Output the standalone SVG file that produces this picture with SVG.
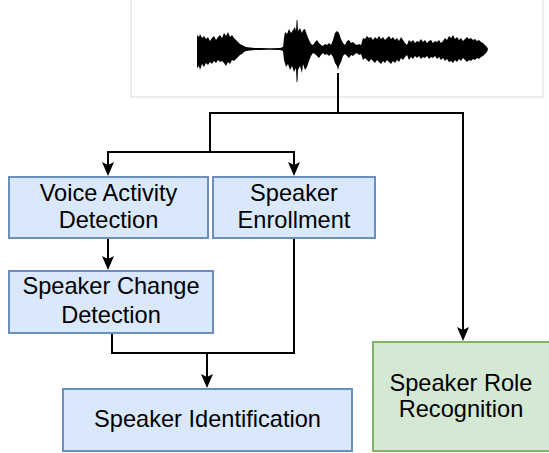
<svg xmlns="http://www.w3.org/2000/svg" width="549" height="453" viewBox="0 0 549 453">
  <style>
    .lbl { font-family: "Liberation Sans", Arial, Helvetica, sans-serif; font-size: 23.6px; fill: #000; text-anchor: middle; }
    .blue { fill: #dae8fc; stroke: #6c8ebf; stroke-width: 2; }
    .green { fill: #d5e8d4; stroke: #82b366; stroke-width: 2; }
    .edge { fill: none; stroke: #000; stroke-width: 2; }
  </style>
  <defs>
    <marker id="arrow" markerUnits="userSpaceOnUse" markerWidth="15" markerHeight="13" refX="10" refY="6.5" orient="auto">
      <path d="M0,0.5 L14,6.5 L0,12.5 L3,6.5 z" fill="#000"/>
    </marker>
  </defs>
  <rect width="549" height="453" fill="#fff"/>

  <!-- audio waveform panel -->
  <g id="waveform">
    <rect x="131" y="-2" width="412" height="99" fill="#fff" stroke="#dcdcdc" stroke-width="1"/>
    <path fill="#000" d="M197,35 L199,37 L200,34 L202,38 L204,36 L206,39 L208,37 L210,41 L212,38 L214,36 L216,40 L218,37 L220,35 L222,38 L224,33 L226,36 L228,32 L230,37 L232,35 L234,38 L236,40 L238,42 L240,44 L242,45 L244,46 L246,47 L250,47.5 L255,48 L260,48 L270,48.2 L280,48 L283,47 L284,38 L285,32 L287,34 L289,29 L291,33 L293,30 L295,27 L296,31 L296.6,20 L297.4,20 L298,31 L300,28 L302,33 L303,30 L305,29 L307,35 L309,40 L311,44 L313,45 L315,42 L317,40 L319,43 L321,45 L323,46 L325,44 L327,45 L329,43 L331,45 L333,40 L335,33 L337,31 L339,33 L341,39 L343,43 L345,45 L347,41 L349,40 L351,43 L353,42 L355,44 L357,45 L359,44 L361,45 L363,38 L365,39 L367,36 L369,38 L371,37 L373,40 L375,37 L377,39 L379,36 L381,39 L383,37 L385,40 L387,38 L389,36 L391,39 L393,37 L395,40 L397,38 L399,41 L401,37 L403,40 L405,43 L407,45 L409,40 L411,42 L413,40 L415,43 L417,41 L419,42 L421,39 L423,42 L425,40 L427,43 L429,41 L431,40 L433,43 L435,41 L437,42 L439,40 L441,43 L443,41 L445,38 L447,40 L449,36 L451,38 L453,35 L455,39 L457,37 L459,40 L461,38 L463,41 L465,39 L467,37 L469,39 L471,38 L473,40 L475,39 L477,41 L479,40 L481,42 L483,43 L485,45 L487,47 L488,49 L487,52 L485,54 L483,56 L481,57 L479,59 L477,58 L475,60 L473,59 L471,61 L469,60 L467,62 L465,60 L463,58 L461,61 L459,59 L457,62 L455,60 L453,63 L451,61 L449,62 L447,59 L445,61 L443,58 L441,60 L439,57 L437,59 L435,56 L433,58 L431,57 L429,59 L427,56 L425,58 L423,57 L421,59 L419,56 L417,58 L415,56 L413,59 L411,57 L409,60 L407,55 L405,57 L403,60 L401,58 L399,62 L397,60 L395,63 L393,61 L391,64 L389,62 L387,60 L385,63 L383,61 L381,64 L379,62 L377,60 L375,63 L373,61 L371,59 L369,62 L367,60 L365,58 L363,60 L361,54 L359,55 L357,53 L355,54 L353,56 L351,55 L349,58 L347,56 L345,54 L343,56 L341,62 L339,66 L338,70 L337,66 L335,63 L333,57 L331,54 L329,56 L327,54 L325,55 L323,53 L321,55 L319,58 L317,56 L315,54 L313,53 L311,56 L309,61 L307,67 L305,70 L303,64 L302,73 L300,66 L298,70 L297.4,82 L296.6,82 L296,68 L294,72 L292,66 L290,70 L288,64 L286,67 L284,60 L283,51 L280,50 L270,49.8 L260,50 L255,50 L250,50.5 L246,51 L244,52 L242,54 L240,55 L238,57 L236,59 L234,61 L232,60 L230,64 L228,62 L226,66 L224,63 L222,61 L220,62 L218,60 L216,63 L214,61 L212,64 L210,62 L208,65 L206,63 L204,67 L202,64 L200,70 L199,66 L197,68 Z"/>
  </g>

  <!-- connectors -->
  <g id="connectors">
    <path class="edge" d="M338,73 V113"/>
    <path class="edge" d="M209,113 H463 V337" marker-end="url(#arrow)"/>
    <path class="edge" d="M210,113 V152"/>
    <path class="edge" d="M108,152 H294"/>
    <path class="edge" d="M108,151 V172" marker-end="url(#arrow)"/>
    <path class="edge" d="M294,151 V172" marker-end="url(#arrow)"/>
    <path class="edge" d="M108,238 V266" marker-end="url(#arrow)"/>
    <path class="edge" d="M112,333 V353 H294 V238"/>
    <path class="edge" d="M207,353 V384" marker-end="url(#arrow)"/>
  </g>

  <g id="vad">
    <rect class="blue" x="9" y="177" width="199" height="61"/>
    <text class="lbl" x="108.5" y="201">Voice Activity</text>
    <text class="lbl" x="108.5" y="228">Detection</text>
  </g>
  <g id="enrollment">
    <rect class="blue" x="213" y="177" width="162" height="61"/>
    <text class="lbl" x="294" y="201">Speaker</text>
    <text class="lbl" x="294" y="228">Enrollment</text>
  </g>
  <g id="change-detection">
    <rect class="blue" x="9" y="271" width="204" height="62"/>
    <text class="lbl" x="111" y="294">Speaker Change</text>
    <text class="lbl" x="111" y="323">Detection</text>
  </g>
  <g id="identification">
    <rect class="blue" x="63" y="389" width="289" height="62"/>
    <text class="lbl" x="207.5" y="427">Speaker Identification</text>
  </g>
  <g id="role-recognition">
    <rect class="green" x="373" y="342" width="178" height="109"/>
    <text class="lbl" x="461" y="391">Speaker Role</text>
    <text class="lbl" x="461" y="417">Recognition</text>
  </g>
</svg>
